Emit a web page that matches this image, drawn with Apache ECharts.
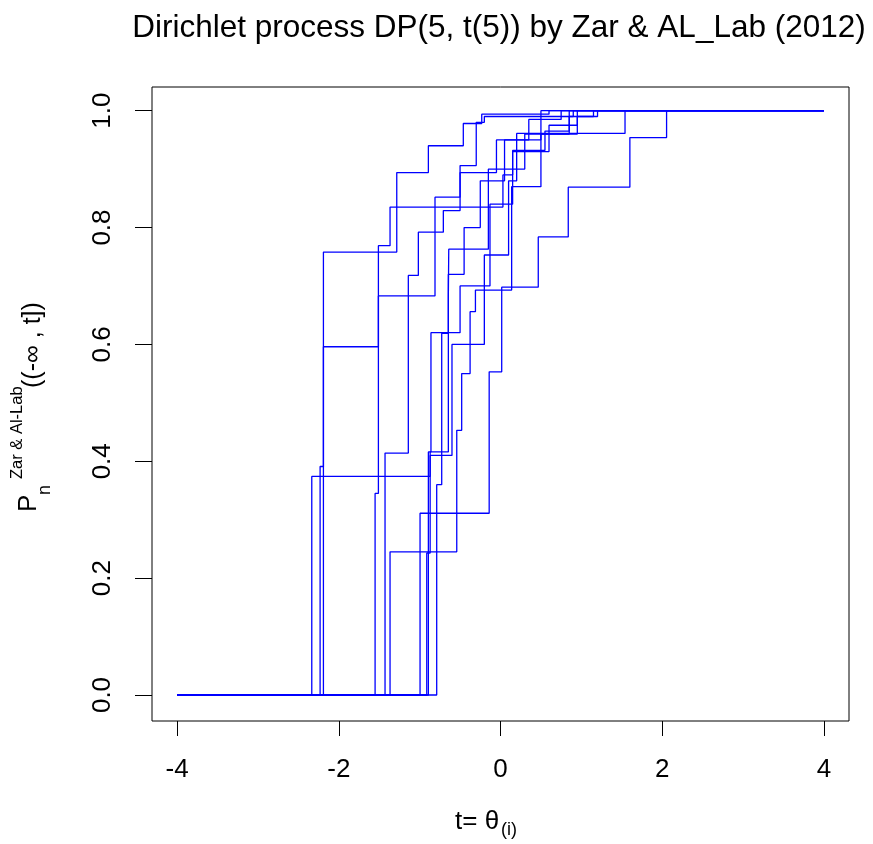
<!DOCTYPE html>
<html><head><meta charset="utf-8">
<script src="https://cdn.jsdelivr.net/npm/echarts@6/dist/echarts.min.js"></script>
<style>html,body{margin:0;padding:0;background:#fff}#c{width:873px;height:844px}</style>
</head><body><div id="c"></div>
<script>
var xTicks = [-4, -2, 0, 2, 4];
var yTicks = [0, 0.2, 0.4, 0.6, 0.8, 1.0];
var pathA = [[-2.334,0.374],[-0.87,0.416],[-0.645,0.62],[-0.5,0.70],[-0.13,0.84],[0.15,0.93],[0.6,0.975],[0.95,1]];
var pathB = [[-2.231,0.391],[-2.19,0.596],[-1.51,0.769],[-1.366,0.835],[0.03,0.89],[0.15,0.932],[0.55,0.965],[0.85,0.99],[1.2,1]];
var pathC = [[-2.19,0.758],[-1.283,0.894],[-0.892,0.940],[-0.46,0.978],[-0.232,0.994],[0.6,1]];
var pathD = [[-1.551,0.345],[-1.51,0.683],[-0.81,0.852],[-0.5,0.906],[-0.3,0.98],[-0.2,0.99],[0.5,1]];
var pathE = [[-1.428,0.414],[-1.14,0.718],[-1.016,0.792],[-0.707,0.829],[-0.5,0.894],[-0.05,0.95],[0.35,0.985],[0.75,1]];
var pathF = [[-1.366,0.245],[-0.541,0.453],[-0.48,0.55],[-0.376,0.656],[-0.31,0.693],[0.138,0.87],[0.5,0.96],[0.95,0.99],[1.15,1]];
var pathG = [[-0.995,0.311],[-0.14,0.553],[0.015,0.698],[0.467,0.784],[0.838,0.869],[1.6,0.954],[2.054,1]];
var pathH = [[-0.912,0.243],[-0.87,0.41],[-0.6,0.6],[-0.2,0.753],[0.1,0.88],[0.2,0.961],[1.54,1]];
var pathI = [[-0.892,0.416],[-0.86,0.62],[-0.645,0.683],[-0.64,0.763],[-0.15,0.9],[0.3,0.96],[0.85,1]];
var pathJ = [[-0.789,0.36],[-0.727,0.619],[-0.645,0.72],[-0.45,0.80],[-0.25,0.88],[0.05,0.95],[0.5,0.99],[0.9,1]];
var paths = [pathA, pathB, pathC, pathD, pathE, pathF, pathG, pathH, pathI, pathJ];
var tStart = -4, tEnd = 4;

var chart = echarts.init(document.getElementById('c'), null, {renderer: 'canvas'});
var FONT = 'Liberation Sans, Arial, sans-serif';
var series = paths.map(function (p) {
  return {
    type: 'line', step: 'end', symbol: 'none', animation: false, silent: true,
    lineStyle: {color: '#0000FF', width: 1.3},
    data: [[tStart, 0]].concat(p).concat([[tEnd, 1]])
  };
});
chart.setOption({
  animation: false,
  backgroundColor: '#ffffff',
  grid: {left: 152, right: 24, top: 87, bottom: 123, show: true, borderColor: '#000', borderWidth: 1, backgroundColor: 'transparent'},
  xAxis: {
    type: 'value', min: -4.31, max: 4.31,
    axisLine: {show: false, onZero: false}, splitLine: {show: false},
    axisTick: {show: true, inside: false, customValues: xTicks, length: 15, lineStyle: {color: '#000', width: 1}},
    axisLabel: {customValues: xTicks, margin: 36, fontSize: 26, color: '#000', fontFamily: FONT}
  },
  yAxis: {
    type: 'value', min: -0.0445, max: 1.0405,
    axisLine: {show: false, onZero: false}, splitLine: {show: false},
    axisTick: {show: true, inside: false, customValues: yTicks, length: 17, lineStyle: {color: '#000', width: 1}},
    axisLabel: {customValues: yTicks, rotate: 90, margin: 36, fontSize: 26, color: '#000', fontFamily: FONT,
      formatter: function (v) { return v.toFixed(1); }}
  },
  graphic: [
    {type: 'text', x: 499, y: 28, style: {text: 'Dirichlet process DP(5, t(5)) by Zar & AL_Lab (2012)', font: '31.5px ' + FONT, fill: '#000', textAlign: 'center', textVerticalAlign: 'middle'}},
    {type: 'text', x: 455, y: 822, style: {text: 't= θ', font: '26px ' + FONT, fill: '#000', textAlign: 'left', textVerticalAlign: 'middle'}},
    {type: 'text', x: 501, y: 830, style: {text: '(i)', font: '18px ' + FONT, fill: '#000', textAlign: 'left', textVerticalAlign: 'middle'}},
    {type: 'text', x: 29, y: 512, rotation: Math.PI / 2, style: {text: 'P', font: '26px ' + FONT, fill: '#000', textAlign: 'left', textVerticalAlign: 'middle'}},
    {type: 'text', x: 45, y: 495, rotation: Math.PI / 2, style: {text: 'n', font: '18px ' + FONT, fill: '#000', textAlign: 'left', textVerticalAlign: 'middle'}},
    {type: 'text', x: 17, y: 479, rotation: Math.PI / 2, style: {text: 'Zar & Al-Lab', font: '16.5px ' + FONT, fill: '#000', textAlign: 'left', textVerticalAlign: 'middle'}},
    {type: 'text', x: 33, y: 388, rotation: Math.PI / 2, style: {text: '((-\u221E , t])', font: '25px ' + FONT, fill: '#000', textAlign: 'left', textVerticalAlign: 'middle'}}
  ],
  series: series
});
</script></body></html>
